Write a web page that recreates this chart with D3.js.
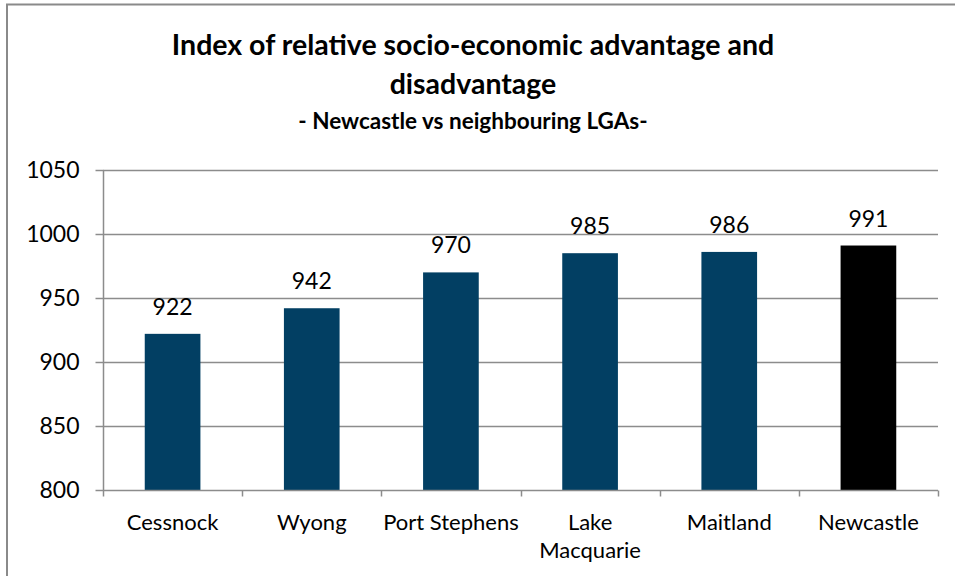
<!DOCTYPE html>
<html>
<head>
<meta charset="utf-8">
<script src="https://cdn.jsdelivr.net/npm/d3@7"></script>
<style>
  html, body { margin: 0; padding: 0; background: #fff; }
  svg { display: block; }
</style>
</head>
<body>
<svg id="chart" width="955" height="576"></svg>
<script>
// Index values per local government area
const categories = ["Cessnock", "Wyong", "Port Stephens", "Lake Macquarie", "Maitland", "Newcastle"];
const values = [922, 942, 970, 985, 986, 991];
const barColors = ["#023f63", "#023f63", "#023f63", "#023f63", "#023f63", "#000000"];
const yTicks = [800, 850, 900, 950, 1000, 1050];
const titleLines = ["Index of relative socio-economic advantage and", "disadvantage"];
const subtitle = "- Newcastle vs neighbouring LGAs-";

const W = 955, H = 576;
const margin = { left: 103, right: 17, top: 170, bottom: 86 };
const font = "Lato, 'Open Sans', sans-serif";
const gridColor = "#8c8c8c";

const svg = d3.select("#chart");

// outer chart frame (runs past the right and bottom edges)
svg.append("rect")
  .attr("x", 7).attr("y", 4.5)
  .attr("width", W + 20).attr("height", H + 20)
  .attr("fill", "#fff").attr("stroke", "#8a8a8a").attr("stroke-width", 2);

const x = d3.scaleBand()
  .domain(categories)
  .range([margin.left, W - margin.right])
  .paddingInner(0.6)
  .paddingOuter(0.3);

const y = d3.scaleLinear()
  .domain([800, 1050])
  .range([H - margin.bottom, margin.top]);

// horizontal gridlines
svg.append("g")
  .selectAll("line")
  .data(yTicks.filter(t => t > 800))
  .join("line")
  .attr("x1", margin.left).attr("x2", W - margin.right)
  .attr("y1", d => Math.round(y(d)) + 0.5).attr("y2", d => Math.round(y(d)) + 0.5)
  .attr("stroke", gridColor).attr("stroke-width", 1.5);

// y axis
const yAxis = svg.append("g")
  .attr("transform", `translate(${margin.left + 0.5},0)`)
  .call(d3.axisLeft(y).tickValues(yTicks).tickSize(8).tickPadding(16).tickFormat(d3.format("d")));
yAxis.selectAll("path, line").attr("stroke", gridColor).attr("stroke-width", 1.5);
yAxis.select(".domain").attr("d", `M0,${y(800)}V${y(1050)}`);
yAxis.selectAll("text").attr("font-family", font).attr("font-size", 23).attr("fill", "#000");

// bars
svg.append("g")
  .selectAll("rect")
  .data(values)
  .join("rect")
  .attr("x", (d, i) => x(categories[i]))
  .attr("width", x.bandwidth())
  .attr("y", d => y(d))
  .attr("height", d => y(800) - y(d))
  .attr("fill", (d, i) => barColors[i]);

// x axis with ticks at category boundaries
const bottomY = Math.round(y(800)) + 0.5;
const xa = svg.append("g");
xa.append("line")
  .attr("x1", margin.left).attr("x2", W - margin.right)
  .attr("y1", bottomY).attr("y2", bottomY)
  .attr("stroke", gridColor).attr("stroke-width", 1.5);
const step = x.step();
const bounds = d3.range(categories.length + 1).map(i => x(categories[0]) - x.paddingOuter() * step + i * step);
xa.selectAll("line.tick")
  .data(bounds)
  .join("line")
  .attr("class", "tick")
  .attr("x1", d => Math.round(d) + 0.5).attr("x2", d => Math.round(d) + 0.5)
  .attr("y1", bottomY).attr("y2", bottomY + 6)
  .attr("stroke", gridColor).attr("stroke-width", 1.5);

// category labels (wrapped to fit the band)
const labelFont = 22;
categories.forEach(c => {
  const cx = x(c) + x.bandwidth() / 2;
  const words = c === "Lake Macquarie" ? ["Lake", "Macquarie"] : [c];
  const t = svg.append("text")
    .attr("text-anchor", "middle")
    .attr("font-family", font).attr("font-size", labelFont).attr("fill", "#000");
  words.forEach((w, k) => {
    t.append("tspan").attr("x", cx).attr("y", 530 + k * 28).text(w);
  });
});

// value labels above bars
svg.append("g")
  .selectAll("text")
  .data(values)
  .join("text")
  .attr("x", (d, i) => x(categories[i]) + x.bandwidth() / 2)
  .attr("y", d => y(d) - 19)
  .attr("text-anchor", "middle")
  .attr("font-family", font).attr("font-size", 23).attr("fill", "#000")
  .text(d => d);

// titles
const cxTitle = 473;
svg.append("text")
  .attr("text-anchor", "middle")
  .attr("font-family", font).attr("font-weight", "bold").attr("font-size", 28.5).attr("fill", "#000")
  .selectAll("tspan").data(titleLines).join("tspan")
  .attr("x", cxTitle).attr("y", (d, i) => 55 + i * 39)
  .text(d => d);
svg.append("text")
  .attr("x", cxTitle).attr("y", 129)
  .attr("text-anchor", "middle")
  .attr("font-family", font).attr("font-weight", "bold").attr("font-size", 22.5).attr("fill", "#000")
  .text(subtitle);
</script>
</body>
</html>
